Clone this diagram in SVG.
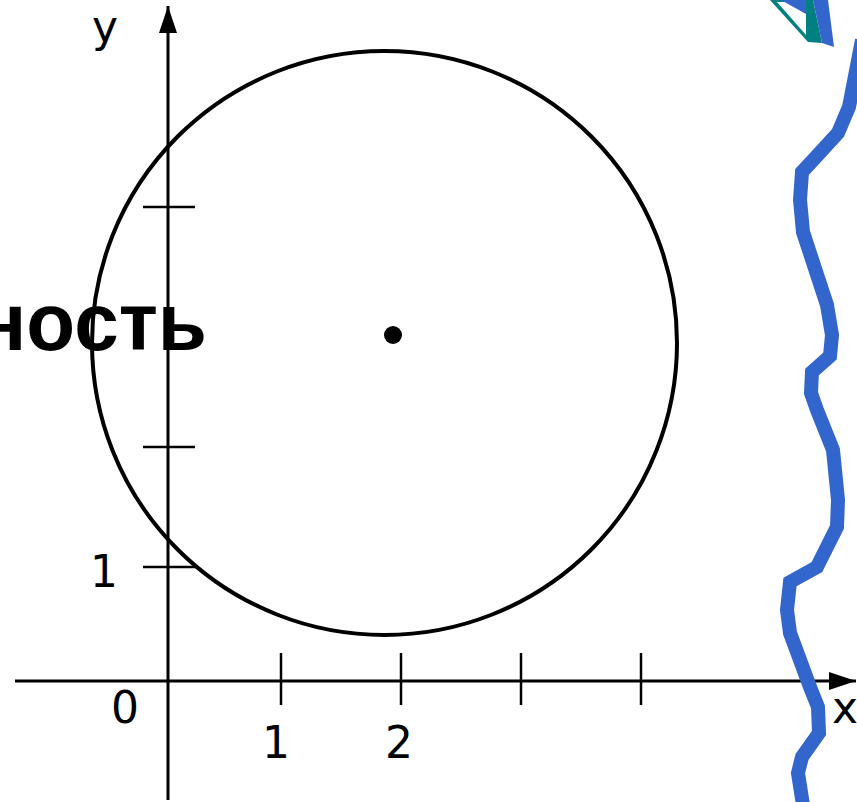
<svg xmlns="http://www.w3.org/2000/svg" width="857" height="802" viewBox="0 0 857 802">
<style>
.ax{stroke:#000;stroke-width:3;fill:none}
.tk{stroke:#000;stroke-width:2.5}
.lbl{font-family:"DejaVu Sans","Liberation Sans",sans-serif;font-size:44px;fill:#000}
.wave{stroke:#3366CC;stroke-width:14;fill:none;stroke-linejoin:miter}
</style>
<defs>
<marker id="arr" markerWidth="28" markerHeight="20" refX="27" refY="9" orient="auto" markerUnits="userSpaceOnUse">
<path d="M0,0 L27,9 L0,18 Z" fill="#000"/>
</marker>
</defs>
<rect width="857" height="802" fill="#fff"/>
<g id="word">
<text x="-22" y="350" font-family="'Liberation Sans',Arial,sans-serif" font-weight="bold" font-size="82" textLength="229" lengthAdjust="spacingAndGlyphs" fill="#000">ность</text>
</g>
<g id="connectors">
<line class="ax" x1="168" y1="800" x2="168" y2="6" marker-end="url(#arr)"/>
<line class="ax" x1="15" y1="681" x2="856" y2="681" marker-end="url(#arr)"/>
<line class="tk" x1="281" y1="653" x2="281" y2="705"/>
<line class="tk" x1="401" y1="653" x2="401" y2="705"/>
<line class="tk" x1="521" y1="653" x2="521" y2="705"/>
<line class="tk" x1="641" y1="653" x2="641" y2="705"/>
<line class="tk" x1="143" y1="207" x2="195" y2="207"/>
<line class="tk" x1="143" y1="447" x2="195" y2="447"/>
<line class="tk" x1="143" y1="567" x2="195" y2="567"/>
</g>
<g id="circle">
<ellipse cx="384.5" cy="343" rx="292.5" ry="292" fill="none" stroke="#000" stroke-width="4"/>
<circle cx="393" cy="335" r="9" fill="#000"/>
</g>
<g id="labels">
<text class="lbl" x="105" y="42" text-anchor="middle">y</text>
<text class="lbl" x="125" y="723" text-anchor="middle">0</text>
<text class="lbl" x="276" y="758" text-anchor="middle">1</text>
<text class="lbl" x="399" y="758" text-anchor="middle">2</text>
<text class="lbl" x="104" y="587" text-anchor="middle">1</text>
<text class="lbl" x="845" y="723" text-anchor="middle">x</text>
</g>
<g id="break">
<polygon points="770,0 808,42 822,43 813,0" fill="#008080"/>
<polygon points="777,2 806,35 806,2" fill="#fff"/>
<polygon points="781,0 806,0 806,14" fill="#3366CC"/>
<polygon points="813,0 828,0 834,47 822,43" fill="#3366CC"/>
<polyline class="wave" points="862,40 849,107 838,133 815,158 802,172 800,200 803,232 827,305 832,335 830,356 812,372 811,393 817,410 833,450 838,500 837,527 817,567 790,582 787,610 790,633 810,687 818,707 819,733 802,757 798,773 803,805"/>
</g>
</svg>
